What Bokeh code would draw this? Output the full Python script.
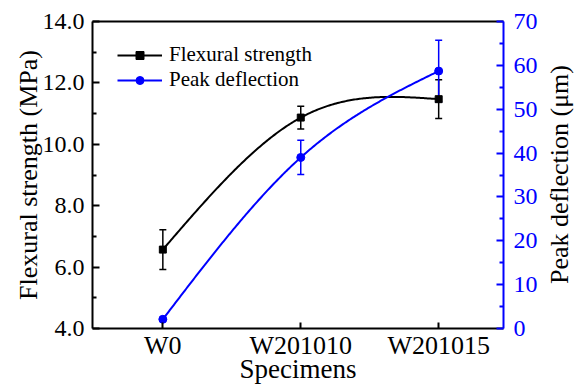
import numpy as np
from bokeh.plotting import figure
from bokeh.models import (Range1d, LinearAxis, FixedTicker, Whisker, ColumnDataSource,
                          Legend, LegendItem, TeeHead, Label)
from bokeh.embed import file_html
from bokeh.resources import INLINE

# ---------------- data ----------------
specimens = ["W0", "W201010", "W201015"]
positions = [1, 2, 3]
flexural_strength = [6.57, 10.87, 11.47]
flexural_err = [0.65, 0.37, 0.63]
peak_deflection = [2.1, 39.0, 58.7]
deflection_err = [0.0, 3.9, 7.0]

left_ticks = [4, 6, 8, 10, 12, 14]
left_tick_labels = ["4.0", "6.0", "8.0", "10.0", "12.0", "14.0"]
left_minor = [5, 7, 9, 11, 13]
right_ticks = [0, 10, 20, 30, 40, 50, 60, 70]
right_minor = [5, 15, 25, 35, 45, 55, 65]
right_title = "Peak deflection (μm)"

FONT = "Liberation Serif"


def natural_spline(xs, ys, n=200):
    xs = np.asarray(xs, float)
    ys = np.asarray(ys, float)
    k = len(xs)
    h = np.diff(xs)
    A = np.zeros((k, k))
    r = np.zeros(k)
    A[0, 0] = A[-1, -1] = 1
    for i in range(1, k - 1):
        A[i, i - 1] = h[i - 1]
        A[i, i] = 2 * (h[i - 1] + h[i])
        A[i, i + 1] = h[i]
        r[i] = 6 * ((ys[i + 1] - ys[i]) / h[i] - (ys[i] - ys[i - 1]) / h[i - 1])
    M = np.linalg.solve(A, r)
    xx = np.linspace(xs[0], xs[-1], n)
    idx = np.clip(np.searchsorted(xs, xx) - 1, 0, k - 2)
    x0 = xs[idx]
    x1 = xs[idx + 1]
    hh = x1 - x0
    a = (x1 - xx) / hh
    b = (xx - x0) / hh
    yy = a * ys[idx] + b * ys[idx + 1] + ((a ** 3 - a) * M[idx] + (b ** 3 - b) * M[idx + 1]) * hh ** 2 / 6
    return xx, yy


p = figure(width=574, height=387, x_range=Range1d(0.49, 3.47), y_range=Range1d(4, 14),
           output_backend="svg", toolbar_location=None,
           min_border_left=92, min_border_right=71, min_border_top=21, min_border_bottom=59,
           outline_line_color=None, background_fill_color="white", border_fill_color="white")
p.extra_y_ranges = {"pd": Range1d(0, 70)}
p.xgrid.visible = False
p.ygrid.visible = False

# bottom axis
xa = p.xaxis[0]
xa.ticker = FixedTicker(ticks=positions, minor_ticks=[])
xa.major_label_overrides = {pos: s for pos, s in zip(positions, specimens)}
xa.axis_label = "Specimens"
xa.axis_line_width = 2
xa.major_tick_in = 6
xa.major_tick_out = 0
xa.major_tick_line_width = 2
xa.major_label_standoff = 2
xa.major_label_text_font = FONT
xa.major_label_text_font_size = "26px"
xa.major_label_text_color = "black"
xa.axis_label_text_font = FONT
xa.axis_label_text_font_size = "27px"
xa.axis_label_text_font_style = "normal"
xa.axis_label_text_color = "black"
xa.axis_label_standoff = -9

# left axis
ya = p.yaxis[0]
ya.ticker = FixedTicker(ticks=left_ticks, minor_ticks=left_minor)
ya.major_label_overrides = {t: s for t, s in zip(left_ticks, left_tick_labels)}
ya.axis_label = "Flexural strength (MPa)"
ya.axis_line_width = 2
ya.major_tick_in = 7
ya.major_tick_out = 0
ya.minor_tick_in = 4
ya.minor_tick_out = 0
ya.major_tick_line_width = 2
ya.minor_tick_line_width = 2
ya.major_label_standoff = 8
ya.major_label_text_font = FONT
ya.major_label_text_font_size = "24px"
ya.major_label_text_color = "black"
ya.axis_label_text_font = FONT
ya.axis_label_text_font_size = "26px"
ya.axis_label_text_font_style = "normal"
ya.axis_label_text_color = "black"
ya.axis_label_standoff = -3

# right axis
ra = LinearAxis(y_range_name="pd", ticker=FixedTicker(ticks=right_ticks, minor_ticks=right_minor),
                axis_line_color="blue", axis_line_width=2,
                major_tick_line_color="blue", minor_tick_line_color="blue",
                major_tick_in=7, major_tick_out=0, minor_tick_in=4, minor_tick_out=0,
                major_tick_line_width=2, minor_tick_line_width=2,
                major_label_standoff=10, major_label_text_color="blue",
                major_label_text_font=FONT, major_label_text_font_size="24px")
p.add_layout(ra, "right")

# right-hand title in the right side panel (reads bottom to top)
p.add_layout(Label(x=19, y=154, x_units="screen", y_units="screen", text=right_title,
                   angle=np.pi / 2, text_align="center", text_baseline="middle",
                   text_font=FONT, text_font_size="26px", text_color="black"), "right")

# top border
ta = LinearAxis(ticker=FixedTicker(ticks=[], minor_ticks=[]), axis_line_width=2,
                major_tick_in=0, major_tick_out=0, minor_tick_in=0, minor_tick_out=0,
                major_label_text_alpha=0)
p.add_layout(ta, "above")

# curves
fx, fy = natural_spline(positions, flexural_strength)
dx, dy = natural_spline(positions, peak_deflection)
l1 = p.line(fx, fy, line_color="black", line_width=2)
l2 = p.line(dx, dy, line_color="blue", line_width=2, y_range_name="pd")

# error bars
src_f = ColumnDataSource(dict(x=positions,
                              upper=[v + e for v, e in zip(flexural_strength, flexural_err)],
                              lower=[v - e for v, e in zip(flexural_strength, flexural_err)]))
src_d = ColumnDataSource(dict(x=positions,
                              upper=[v + e for v, e in zip(peak_deflection, deflection_err)],
                              lower=[v - e for v, e in zip(peak_deflection, deflection_err)]))
wf = Whisker(source=src_f, base="x", upper="upper", lower="lower", line_color="black", line_width=1.5,
             upper_head=TeeHead(size=7, line_color="black", line_width=1.5),
             lower_head=TeeHead(size=7, line_color="black", line_width=1.5))
wd = Whisker(source=src_d, base="x", upper="upper", lower="lower", line_color="blue", line_width=1.5,
             y_range_name="pd",
             upper_head=TeeHead(size=7, line_color="blue", line_width=1.5),
             lower_head=TeeHead(size=7, line_color="blue", line_width=1.5))
p.add_layout(wf)
p.add_layout(wd)

s1 = p.scatter(positions, flexural_strength, marker="square", size=7, fill_color="black", line_color="black")
s2 = p.scatter(positions, peak_deflection, marker="circle", size=8, fill_color="blue", line_color="blue",
               y_range_name="pd")

legend = Legend(items=[LegendItem(label="Flexural strength", renderers=[l1, s1]),
                       LegendItem(label="Peak deflection", renderers=[l2, s2])],
                location=(25, 236), padding=0, spacing=0, glyph_width=45, glyph_height=20,
                label_height=20, label_standoff=7, label_text_font=FONT, label_text_font_size="21px",
                label_text_color="black",
                border_line_color=None, background_fill_alpha=0)
p.add_layout(legend)

open("out.html", "w").write(file_html(p, INLINE))
